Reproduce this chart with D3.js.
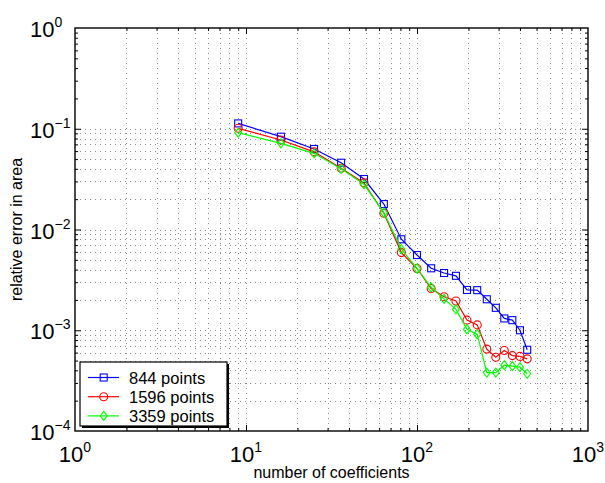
<!DOCTYPE html>
<html lang="en">
  <head>
    <meta charset="UTF-8" />
    <title>relative error</title>
    <style>
      body {
        margin: 0;
        background: #fff;
      }
      svg {
        display: block;
        font-family: "Liberation Sans", Arial, Helvetica, sans-serif;
      }
      .grid line {
        stroke: #8a8a8a;
        stroke-width: 1;
        stroke-dasharray: 1, 4;
      }
      .ax path {
        display: none;
      }
      .ax line {
        stroke: #000;
      }
    </style>
    <script src="https://cdn.jsdelivr.net/npm/d3@7"></script>
  </head>
  <body>
    <div class="container"></div>
    <script>
      // number of coefficients
      const coeffs = [9, 16, 25, 36, 49, 64, 81, 100, 121, 144, 169, 196, 225, 256, 289, 324, 361, 400, 441];

      const err844 = [0.113, 0.0834, 0.063, 0.046, 0.0317, 0.0179, 0.008, 0.00558, 0.00412, 0.0037, 0.00347,
        0.00251, 0.0025, 0.00203, 0.00167, 0.00131, 0.00126, 0.001, 0.00064];
      const err1596 = [0.101, 0.0773, 0.059, 0.0405, 0.029, 0.0145, 0.0059, 0.0041, 0.0026, 0.00215, 0.00195,
        0.00126, 0.00113, 0.00065, 0.00054, 0.00063, 0.00056, 0.00055, 0.00052];
      const err3359 = [0.0914, 0.0717, 0.057, 0.04, 0.0281, 0.0147, 0.0064, 0.0041, 0.00266, 0.00205, 0.00161,
        0.00102, 0.00091, 0.00038, 0.00038, 0.00045, 0.00044, 0.00043, 0.00037];

      const seriesNames = ["844 points", "1596 points", "3359 points"];
      const xTickExp = [0, 1, 2, 3];
      const yTickExp = [0, -1, -2, -3, -4];

      const series = [
        { name: seriesNames[0], vals: err844, color: "#0000ff", marker: "square" },
        { name: seriesNames[1], vals: err1596, color: "#ff0000", marker: "circle" },
        { name: seriesNames[2], vals: err3359, color: "#00ff00", marker: "diamond" },
      ];

      const width = 605,
        height = 483;
      const pLeft = 75,
        pRight = 588,
        pTop = 28,
        pBottom = 431;

      const x = d3.scaleLog().domain([1, 1000]).range([pLeft, pRight]);
      const y = d3.scaleLog().domain([1e-4, 1]).range([pBottom, pTop]);

      const svg = d3
        .select(".container")
        .append("svg")
        .attr("width", width)
        .attr("height", height);

      // minor values
      const xMinor = [];
      [1, 10, 100].forEach((d) => {
        for (let k = 2; k <= 9; k++) xMinor.push(d * k);
      });
      const xMajor = [10, 100];
      const yMinor = [];
      [1e-4, 1e-3, 1e-2].forEach((d) => {
        for (let k = 2; k <= 9; k++) yMinor.push(d * k);
      });
      const yMajor = [1e-1, 1e-2, 1e-3];

      // grid (dotted, no horizontal minor lines in the top decade)
      const grid = svg.append("g").attr("class", "grid");
      grid
        .selectAll(".vx")
        .data(xMinor.concat(xMajor))
        .enter()
        .append("line")
        .attr("x1", (d) => Math.round(x(d)) + 0.5)
        .attr("x2", (d) => Math.round(x(d)) + 0.5)
        .attr("y1", pTop)
        .attr("y2", pBottom);
      grid
        .selectAll(".hy")
        .data(yMinor.concat(yMajor))
        .enter()
        .append("line")
        .attr("x1", pLeft)
        .attr("x2", pRight)
        .attr("y1", (d) => Math.round(y(d)) + 0.5)
        .attr("y2", (d) => Math.round(y(d)) + 0.5);

      // ticks on all four sides, pointing inward
      function ticks(axisFn, scale, vals, size, tr) {
        svg
          .append("g")
          .attr("class", "ax")
          .attr("transform", tr)
          .call(axisFn(scale).tickValues(vals).tickSize(size).tickFormat(""));
      }
      const yAllMinor = yMinor.concat(d3.range(2, 10).map((k) => k * 0.1));
      ticks(d3.axisBottom, x, xMinor, -3, `translate(0,${pBottom})`);
      ticks(d3.axisBottom, x, xMajor, -6, `translate(0,${pBottom})`);
      ticks(d3.axisTop, x, xMinor, -3, `translate(0,${pTop})`);
      ticks(d3.axisTop, x, xMajor, -6, `translate(0,${pTop})`);
      ticks(d3.axisLeft, y, yAllMinor, -3, `translate(${pLeft},0)`);
      ticks(d3.axisLeft, y, yMajor, -6, `translate(${pLeft},0)`);
      ticks(d3.axisRight, y, yAllMinor, -3, `translate(${pRight},0)`);
      ticks(d3.axisRight, y, yMajor, -6, `translate(${pRight},0)`);

      // frame
      svg
        .append("rect")
        .attr("x", pLeft)
        .attr("y", pTop)
        .attr("width", pRight - pLeft)
        .attr("height", pBottom - pTop)
        .attr("fill", "none")
        .attr("stroke", "#000")
        .attr("stroke-width", 1.4);

      // tick labels
      const xl = svg
        .selectAll(".xl")
        .data(xTickExp)
        .enter()
        .append("text")
        .attr("x", (d) => x(Math.pow(10, d)))
        .attr("y", 462)
        .attr("text-anchor", "middle")
        .attr("font-size", 22);
      xl.append("tspan").text("10");
      xl.append("tspan")
        .attr("dy", -10)
        .attr("font-size", 14)
        .text((d) => (d < 0 ? "\u2212" + -d : d));

      const yl = svg
        .selectAll(".yl")
        .data(yTickExp)
        .enter()
        .append("text")
        .attr("x", 30)
        .attr("y", (d) => y(Math.pow(10, d)) + 9)
        .attr("font-size", 22);
      yl.append("tspan").text("10");
      yl.append("tspan")
        .attr("dy", -10)
        .attr("font-size", 14)
        .text((d) => (d < 0 ? "\u2212" + -d : d));

      // axis titles
      svg
        .append("text")
        .attr("x", (pLeft + pRight) / 2)
        .attr("y", 478)
        .attr("text-anchor", "middle")
        .attr("font-size", 16)
        .text("number of coefficients");
      svg
        .append("text")
        .attr("transform", `translate(22,${(pTop + pBottom) / 2}) rotate(-90)`)
        .attr("text-anchor", "middle")
        .attr("font-size", 16)
        .text("relative error in area");

      // markers
      function drawMarker(g, type, color) {
        if (type === "circle") {
          g.append("circle").attr("r", 4);
        } else if (type === "diamond") {
          g.append("path").attr("d", "M0,-4.5L3.5,0L0,4.5L-3.5,0Z");
        } else {
          g.append("rect").attr("x", -3.5).attr("y", -3.5).attr("width", 7).attr("height", 7);
        }
        g.selectAll("*").attr("fill", "none").attr("stroke", color).attr("stroke-width", 1.1);
      }

      const line = d3
        .line()
        .x((d) => x(d[0]))
        .y((d) => y(d[1]));

      series.forEach((s) => {
        const pts = coeffs.map((c, i) => [c, s.vals[i]]);
        svg
          .append("path")
          .datum(pts)
          .attr("d", line)
          .attr("fill", "none")
          .attr("stroke", s.color)
          .attr("stroke-width", 1.2);
        svg
          .selectAll(null)
          .data(pts)
          .enter()
          .append("g")
          .attr("transform", (d) => `translate(${x(d[0])},${y(d[1])})`)
          .each(function () {
            drawMarker(d3.select(this), s.marker, s.color);
          });
      });

      // legend
      const lg = svg.append("g").attr("transform", "translate(80,362)");
      lg.append("rect").attr("x", 2).attr("y", 2).attr("width", 147).attr("height", 64).attr("fill", "#000");
      lg.append("rect")
        .attr("width", 147)
        .attr("height", 64)
        .attr("fill", "#fff")
        .attr("stroke", "#000")
        .attr("stroke-width", 1.2);
      series.forEach((s, i) => {
        const row = lg.append("g").attr("transform", `translate(0,${15.5 + i * 19.2})`);
        row.append("line").attr("x1", 8).attr("x2", 39).attr("stroke", s.color).attr("stroke-width", 1.2);
        drawMarker(row.append("g").attr("transform", "translate(23.7,0)"), s.marker, s.color);
        row.append("text").attr("x", 49).attr("y", 6).attr("font-size", 16.5).text(s.name);
      });
    </script>
  </body>
</html>
